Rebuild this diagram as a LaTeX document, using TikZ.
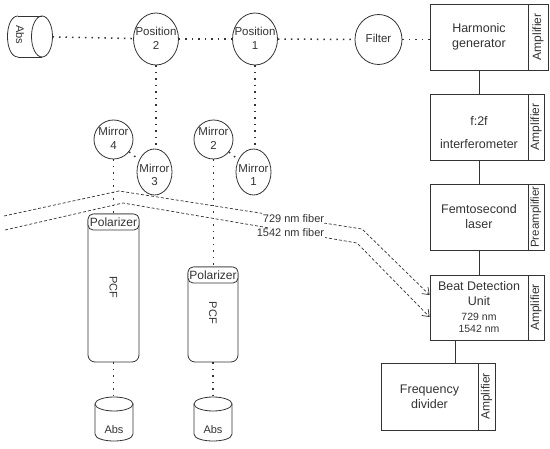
\documentclass[tikz,border=0pt]{standalone}
\usepackage{fontspec}
\setmainfont{Liberation Sans}
\usetikzlibrary{shapes.geometric,arrows.meta,calc}
\definecolor{ink}{HTML}{333333}
\begin{document}
\begin{tikzpicture}[x=1pt,y=-1pt,
  every node/.style={text=ink},
  ln/.style={draw=ink, line width=0.8pt},
  box/.style={draw=ink, line width=0.8pt, rectangle, inner sep=0pt, minimum width=98pt, minimum height=66pt},
  strip/.style={draw=ink, line width=0.8pt, rectangle, inner sep=0pt, rotate=90, minimum width=66pt, font=\fontsize{12}{14}\selectfont},
  btxt/.style={align=center, inner sep=0pt, font=\fontsize{12.5}{15}\selectfont},
  ell/.style={draw=ink, line width=0.8pt, ellipse, inner sep=0pt},
  etxt/.style={align=center, inner sep=0pt, font=\fontsize{11.5}{14}\selectfont},
  mtxt/.style={align=center, inner sep=0pt, font=\fontsize{11.5}{13.5}\selectfont},
  dot/.style={draw=ink, line width=1.5pt, dash pattern=on 1.5pt off 5pt},
  fiber/.style={draw=ink, line width=0.7pt, dash pattern=on 3pt off 2pt, -{Straight Barb[length=6pt,width=9pt]}},
  flab/.style={fill=white, inner sep=1pt, font=\fontsize{11}{13}\selectfont},
  pcfbody/.style={draw=ink, line width=0.8pt, rectangle, rounded corners=7pt, inner sep=0pt},
  polbox/.style={draw=ink, line width=0.8pt, fill=white, rectangle, rounded corners=5pt, inner sep=0pt, minimum height=16pt, font=\fontsize{12}{14}\selectfont},
  small/.style={inner sep=0pt, font=\fontsize{11}{13}\selectfont},
  ghost/.style={inner sep=0pt, outer sep=0pt}
]
\useasboundingbox (0,0) rectangle (550,449);

% right column of boxes
\node[box] (hg) at (479,37) {};
\node[btxt] (hgt) at (479,37) {Harmonic\\generator};
\node[strip, minimum height=20pt] (hgamp) at (538,37) {Amplifier};

\node[box] (f2f) at (479,127) {};
\node[btxt] (f2ft) at (479,132.5) {f:2f\\[8.7pt]interferometer};
\node[strip, minimum height=16pt] (f2famp) at (536,127) {Amplifier};

\node[box] (fs) at (479,217) {};
\node[btxt] (fst) at (479,217) {Femtosecond\\laser};
\node[strip, minimum height=16pt, font=\fontsize{11.5}{13}\selectfont] (fsamp) at (536,217) {Preamplifier};

\node[box, minimum height=65pt] (bdu) at (479,307.5) {};
\node[btxt] (bdut) at (479,293.5) {Beat Detection\\Unit};
\node[align=center, inner sep=0pt, font=\fontsize{10.5}{12.3}\selectfont] (bdut2) at (479,323) {729 nm\\1542 nm};
\node[strip, minimum height=16pt, minimum width=65pt] (bduamp) at (536,307.5) {Amplifier};

\node[box, minimum width=97pt, minimum height=67pt] (fd) at (429.5,396.5) {};
\node[btxt] (fdt) at (429.5,397) {Frequency\\divider};
\node[strip, minimum height=17pt, minimum width=67pt] (fdamp) at (486.5,396.5) {Amplifier};

\draw[ln] (hg.south) -- (f2f.north);
\draw[ln] (f2f.south) -- (fs.north);
\draw[ln] (fs.south) -- (bdu.north);
\draw[ln] ([xshift=-24pt]bdu.south) -- ([xshift=25.5pt]fd.north);

% top row
\node[ghost, minimum width=45pt, minimum height=41pt] (absT) at (30,36.5) {};
\draw[ln] (18,16) -- (42,16) (18,57) -- (42,57);
\draw[ln] (18,16) .. controls (4,16) and (4,57) .. (18,57);
\draw[ln] (42,36.5) ellipse [x radius=10.5pt, y radius=20.5pt];
\node[small, rotate=-90] (absTt) at (20,35) {Abs};

\node[ell, minimum width=45pt, minimum height=52pt] (pos2) at (156,39) {};
\node[etxt] (pos2t) at (156,38.5) {Position\\2};
\node[ell, minimum width=45pt, minimum height=52pt] (pos1) at (255,39) {};
\node[etxt] (pos1t) at (255,38.5) {Position\\1};
\node[ell, minimum width=47pt, minimum height=50pt] (filter) at (378.5,39.5) {};
\node[etxt] (filtert) at (378.5,38) {Filter};

\draw[dot] (absT) -- (pos2);
\draw[dot] (pos2) -- (pos1);
\draw[dot] (pos1) -- (filter);
\draw[dot] (filter) -- (filter -| hg.west);

% mirrors
\node[ell, minimum width=39pt, minimum height=39pt] (m4) at (113.5,139.5) {};
\node[mtxt] (m4t) at (113.5,138.5) {Mirror\\4};
\node[ell, minimum width=35pt, minimum height=46pt] (m3) at (154.5,172) {};
\node[mtxt] (m3t) at (154.5,175) {Mirror\\3};
\node[ell, minimum width=39pt, minimum height=39pt] (m2) at (213.5,139.5) {};
\node[mtxt] (m2t) at (213.5,138.5) {Mirror\\2};
\node[ell, minimum width=35pt, minimum height=46pt] (m1) at (253.5,172) {};
\node[mtxt] (m1t) at (253.5,175) {Mirror\\1};

\draw[dot] (pos2.south) -- (pos2.south |- m3.north);
\draw[dot] (pos1.south) -- (pos1.south |- m1.north);
\draw[dot] (m4) -- (m3);
\draw[dot] (m2) -- (m1);

% PCFs
\node[pcfbody, minimum width=51pt, minimum height=148pt] (pcf1) at (113.5,288) {};
\node[polbox, minimum width=51pt] (pol1) at (113.5,222) {Polarizer};
\node[small, rotate=-90] (pcf1t) at (113.5,287.5) {PCF};
\node[pcfbody, minimum width=50pt, minimum height=95pt] (pcf2) at (213,314.5) {};
\node[polbox, minimum width=50pt] (pol2) at (213,275) {Polarizer};
\node[small, rotate=-90] (pcf2t) at (213,313) {PCF};

\draw[dot] (m4.south) -- (m4.south |- pol1.north);
\draw[dot] (m2.south) -- (m2.south |- pol2.north);

% bottom absorbers
\node[ghost, minimum width=38pt, minimum height=44pt] (absB1) at (114,419) {};
\draw[ln] (95,404) -- (95,434) .. controls (95,443.33) and (133,443.33) .. (133,434) -- (133,404);
\draw[ln] (114,404) ellipse [x radius=19pt, y radius=7pt];
\node[small] (absB1t) at (114,430) {Abs};
\node[ghost, minimum width=38pt, minimum height=44pt] (absB2) at (213,419) {};
\draw[ln] (194,404) -- (194,434) .. controls (194,443.33) and (232,443.33) .. (232,434) -- (232,404);
\draw[ln] (213,404) ellipse [x radius=19pt, y radius=7pt];
\node[small] (absB2t) at (213,430) {Abs};

\draw[dot] (pcf1.south) -- (pcf1.south |- absB1.north);
\draw[dot] (pcf2.south) -- (pcf2.south |- absB2.north);

% fibers
\coordinate (f1a) at (4,216);
\coordinate (f1b) at (119,191);
\coordinate (f1c) at (362,229);
\coordinate (f2a) at (5,230);
\coordinate (f2b) at (123,203);
\coordinate (f2c) at (357,243);
\draw[fiber] (f1a) -- (f1b) -- (f1c) -- ($(bdu.west)+(0,-12.5)$);
\draw[fiber] (f2a) -- (f2b) -- (f2c) -- ($(bdu.west)+(0,9.5)$);
\node[flab] (l729) at (293.5,218.3) {729 nm fiber};
\node[flab] (l1542) at (290.5,233) {1542 nm fiber};
\end{tikzpicture}
\end{document}
